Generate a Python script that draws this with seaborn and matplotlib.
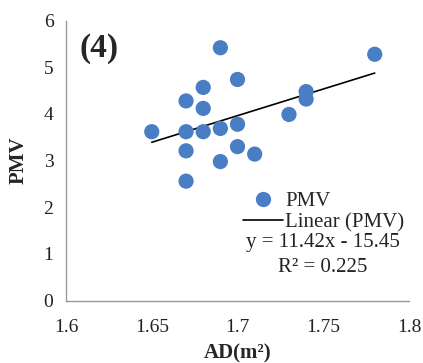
import numpy as np
import pandas as pd
import matplotlib
matplotlib.use("Agg")
import matplotlib.pyplot as plt
import seaborn as sns
from matplotlib.lines import Line2D

# data
ad = [1.65, 1.67, 1.67, 1.67, 1.67, 1.68, 1.68, 1.68, 1.69, 1.69,
      1.69, 1.70, 1.70, 1.70, 1.71, 1.73, 1.74, 1.74, 1.78]
pmv = [3.62, 4.28, 3.62, 3.21, 2.56, 4.57, 4.12, 3.62, 5.42, 3.69,
       2.98, 4.74, 3.78, 3.30, 3.14, 3.99, 4.48, 4.32, 5.28]
slope = 11.42
intercept = -15.45
r2 = 0.225

df = pd.DataFrame({"AD": ad, "PMV": pmv})

sns.set_style("white")
plt.rcParams["font.family"] = ["Liberation Serif", "DejaVu Serif"]

fig = plt.figure(figsize=(4.23, 3.63), dpi=100)
ax = fig.add_axes([0.156, 0.172, 0.811, 0.771])

blue = "#4A7EC4"
sns.scatterplot(data=df, x="AD", y="PMV", ax=ax, color=blue, s=120,
                edgecolor="none", legend=False, zorder=3)

# trendline over the data range
xs = np.array([min(ad), max(ad)])
ax.plot(xs, slope * xs + intercept, color="black", lw=1.2, zorder=2)

ax.set_xlim(1.6, 1.8)
ax.set_ylim(0, 6)
ax.set_xticks([1.6, 1.65, 1.7, 1.75, 1.8])
ax.set_xticklabels(["1.6", "1.65", "1.7", "1.75", "1.8"])
ax.set_yticks(range(0, 7))

for side in ["top", "right"]:
    ax.spines[side].set_visible(False)
for side in ["left", "bottom"]:
    ax.spines[side].set_color("#9a9a9a")
    ax.spines[side].set_linewidth(1.0)
ax.tick_params(axis="both", which="both", direction="out", length=5,
               color="#9a9a9a", labelsize=14, labelcolor="#222222", pad=4)
ax.tick_params(axis="x", pad=8)

ax.set_xlabel("AD(m²)", fontsize=15, fontweight="bold", labelpad=6)
ax.set_ylabel("PMV", fontsize=15, fontweight="bold", labelpad=11)

ax.text(0.04, 0.9, "(4)", transform=ax.transAxes, fontsize=24,
        fontweight="bold", ha="left", va="center")

handles = [
    Line2D([], [], marker="o", color=blue, ls="none", markersize=11,
           markeredgecolor="none"),
    Line2D([], [], color="black", lw=1.2),
]
ax.legend(handles, ["PMV", "Linear (PMV)"], loc="upper left",
          bbox_to_anchor=(0.493, 0.42), frameon=False, fontsize=15,
          handlelength=1.9, handletextpad=0.1, labelspacing=0.1,
          borderaxespad=0)

eq = "y = %.2fx - %.2f" % (slope, -intercept)
ax.text(0.748, 0.206, eq, transform=ax.transAxes, fontsize=15,
        ha="center", va="center", color="#222222")
ax.text(0.748, 0.117, "R² = %.3f" % r2, transform=ax.transAxes,
        fontsize=15, ha="center", va="center", color="#222222")

fig.savefig("out.png", dpi=100)
